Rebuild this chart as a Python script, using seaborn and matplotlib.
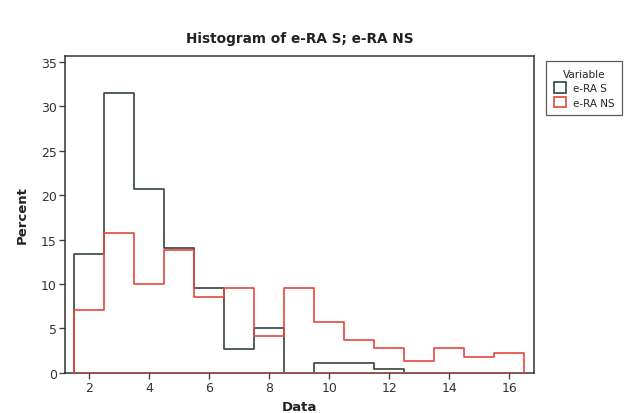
import pandas as pd
import seaborn as sns
import matplotlib.pyplot as plt
from matplotlib.colors import to_rgba

# Bin centres (width 1) and percent per bin
bin_centers = [2, 3, 4, 5, 6, 7, 8, 9, 10, 11, 12, 13, 14, 15, 16]
pct_s = [13.4, 31.5, 20.7, 14.0, 9.5, 2.7, 5.0, 0.0, 1.1, 1.1, 0.4, 0.0, 0.0, 0.0, 0.0]
pct_ns = [7.1, 15.7, 10.0, 13.8, 8.5, 9.5, 4.2, 9.5, 5.7, 3.7, 2.8, 1.3, 2.8, 1.75, 2.25]
series = ["e-RA S", "e-RA NS"]
bin_edges = [b - 0.5 for b in bin_centers] + [bin_centers[-1] + 0.5]

df = pd.DataFrame({
    "Data": bin_centers * 2,
    "Percent": pct_s + pct_ns,
    "Variable": [series[0]] * len(bin_centers) + [series[1]] * len(bin_centers),
})

sns.set_style("white")
plt.rcParams['font.family'] = ['DejaVu Sans']

fig = plt.figure(figsize=(6.32, 4.14), dpi=100)
ax = fig.add_axes([0.103, 0.097, 0.742, 0.765])

palette = {"e-RA S": "#35433d", "e-RA NS": "#e8473f"}
sns.histplot(data=df, x="Data", weights="Percent", hue="Variable", hue_order=series,
             bins=bin_edges, element="step", fill=True, facecolor="none",
             palette=palette, linewidth=1.2, zorder=3, ax=ax)

# red outline sits on top of the black one, as in Minitab
red = to_rgba(palette["e-RA NS"])
for coll in ax.collections:
    ec = coll.get_edgecolor()
    if len(ec) and tuple(ec[0]) == red:
        coll.set_zorder(4)

ax.set_xlim(1.19, 16.82)
ax.set_ylim(0, 35.65)
ax.set_xticks(range(2, 17, 2))
ax.set_yticks(range(0, 36, 5))
ax.tick_params(axis="both", direction="out", length=4, width=1, color="#444444",
               labelsize=9, labelcolor="#333333", bottom=True, left=True, pad=2)
for s in ax.spines.values():
    s.set_color("#333333")
    s.set_linewidth(1.1)

ax.set_title("Histogram of e-RA S; e-RA NS", fontsize=9.8, fontweight="bold", color="#222222", pad=10)
ax.set_xlabel("Data", fontsize=9.5, fontweight="bold", color="#222222", labelpad=4)
ax.set_ylabel("Percent", fontsize=9.5, fontweight="bold", color="#222222", labelpad=9)

sns.move_legend(ax, "upper left", bbox_to_anchor=(1.015, 1.0), title="Variable",
                fontsize=7.5, title_fontsize=7.5, frameon=True, fancybox=False,
                edgecolor="#333333", handlelength=1.2, handleheight=1.2,
                borderpad=0.7, labelspacing=0.35, handletextpad=0.7)
ax.get_legend().get_frame().set_linewidth(0.9)

plt.savefig("out.png", dpi=100)
